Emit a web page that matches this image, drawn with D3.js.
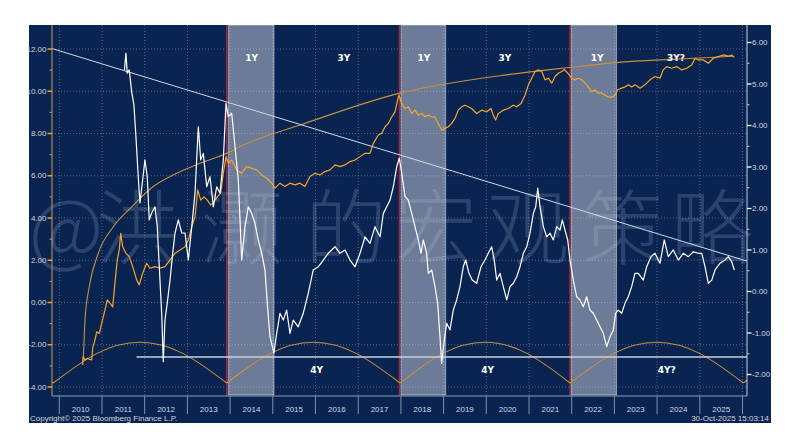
<!DOCTYPE html>
<html>
<head>
<meta charset="utf-8">
<script src="https://cdn.jsdelivr.net/npm/d3@7"></script>
<style>
  body { margin: 0; background: #fff; }
  svg text { font-family: "Liberation Sans Narrow", "Arial Narrow", "Liberation Sans", sans-serif; }
</style>
</head>
<body>
<svg id="chart" width="800" height="446"></svg>
<script>
// ---- data (decimal year, value) ----
// white series, left axis
var whiteSeries = [
  [2011.527,11.01],[2011.562,11.80],[2011.592,10.85],[2011.639,11.01],[2011.696,9.98],[2011.749,9.35],
  [2011.796,7.85],[2011.850,5.95],[2011.890,4.71],[2011.953,5.80],[2012.007,6.75],[2012.061,5.95],
  [2012.108,3.91],[2012.164,4.24],[2012.241,4.53],[2012.295,3.59],[2012.358,1.06],[2012.398,-0.50],
  [2012.436,-2.80],[2012.475,-0.83],[2012.529,-0.02],[2012.593,1.06],[2012.656,2.34],[2012.710,3.29],
  [2012.787,3.91],[2012.867,3.29],[2012.944,3.29],[2013.021,2.01],[2013.101,3.59],[2013.178,5.18],
  [2013.255,8.32],[2013.311,6.75],[2013.372,7.06],[2013.452,5.48],[2013.529,5.95],[2013.607,4.53],
  [2013.686,5.48],[2013.763,5.18],[2013.841,6.75],[2013.904,9.43],[2013.958,8.80],[2014.037,8.96],
  [2014.115,7.38],[2014.192,5.80],[2014.272,2.01],[2014.349,3.59],[2014.426,4.53],[2014.506,4.22],
  [2014.583,3.75],[2014.660,2.96],[2014.740,2.33],[2014.817,1.54],[2014.871,-0.04],[2014.934,-1.62],
  [2015.028,-2.40],[2015.091,-1.46],[2015.169,-0.51],[2015.246,-0.83],[2015.325,-0.36],[2015.403,-1.46],
  [2015.480,-0.83],[2015.597,-1.15],[2015.714,-0.51],[2015.831,0.43],[2015.948,1.54],[2016.066,1.69],
  [2016.183,2.01],[2016.300,2.33],[2016.457,2.64],[2016.574,2.33],[2016.691,2.49],[2016.808,2.01],
  [2016.925,1.69],[2017.042,2.33],[2017.159,3.11],[2017.276,2.80],[2017.393,3.59],[2017.511,3.11],
  [2017.588,4.22],[2017.667,4.53],[2017.745,4.85],[2017.822,5.48],[2017.902,6.43],[2017.963,6.84],
  [2018.019,6.12],[2018.096,5.01],[2018.173,4.85],[2018.253,4.22],[2018.330,3.59],[2018.407,2.96],
  [2018.471,2.33],[2018.525,2.96],[2018.604,2.33],[2018.642,1.38],[2018.721,1.54],[2018.799,0.75],
  [2018.862,-0.04],[2018.916,-1.62],[2018.955,-2.88],[2019.016,-1.78],[2019.073,-0.98],[2019.150,-1.30],
  [2019.227,-0.36],[2019.307,0.12],[2019.384,0.75],[2019.461,1.69],[2019.518,2.01],[2019.595,1.38],
  [2019.672,1.06],[2019.775,0.91],[2019.876,1.69],[2019.969,2.01],[2020.047,2.33],[2020.126,2.64],
  [2020.187,2.01],[2020.244,1.06],[2020.321,1.38],[2020.398,0.75],[2020.478,0.12],[2020.555,0.75],
  [2020.632,0.91],[2020.712,1.22],[2020.789,1.69],[2020.867,2.33],[2020.946,2.64],[2021.023,3.28],
  [2021.101,4.22],[2021.157,4.53],[2021.204,5.41],[2021.258,4.53],[2021.335,3.59],[2021.415,3.11],
  [2021.492,3.28],[2021.569,2.96],[2021.649,3.59],[2021.726,3.43],[2021.780,3.91],[2021.843,3.43],
  [2021.906,2.96],[2021.960,2.01],[2022.037,1.06],[2022.117,0.27],[2022.194,0.12],[2022.272,-0.20],
  [2022.351,0.27],[2022.429,-0.36],[2022.506,-0.51],[2022.585,-0.83],[2022.663,-1.15],[2022.740,-1.46],
  [2022.820,-2.09],[2022.897,-1.62],[2022.974,-1.30],[2023.030,-0.51],[2023.091,-0.36],[2023.171,-0.51],
  [2023.248,-0.04],[2023.325,0.27],[2023.405,0.75],[2023.482,1.38],[2023.560,1.38],[2023.677,1.06],
  [2023.756,1.69],[2023.857,2.17],[2023.951,2.33],[2024.068,1.86],[2024.169,2.96],[2024.262,2.17],
  [2024.379,2.49],[2024.496,2.01],[2024.614,2.33],[2024.731,2.17],[2024.848,2.40],[2024.965,2.33],
  [2025.044,2.33],[2025.122,1.69],[2025.199,0.91],[2025.279,1.06],[2025.356,1.54],[2025.473,1.86],
  [2025.590,2.01],[2025.667,2.17],[2025.747,1.93],[2025.808,1.54]
];

// orange series, right axis
var orangeSeries = [
  [2010.548,-1.77],[2010.562,-1.57],[2010.602,-1.65],[2010.656,-1.61],[2010.759,-1.65],[2010.782,-1.37],
  [2010.836,-1.17],[2010.876,-0.97],[2010.937,-1.01],[2010.993,-0.77],[2011.070,-0.45],[2011.124,-0.20],
  [2011.187,-0.28],[2011.251,-0.37],[2011.304,0.20],[2011.358,0.76],[2011.405,1.00],[2011.438,1.40],
  [2011.485,1.08],[2011.562,0.92],[2011.639,0.84],[2011.719,0.60],[2011.813,0.28],[2011.874,0.16],
  [2011.953,0.44],[2012.047,0.68],[2012.124,0.56],[2012.241,0.60],[2012.358,0.56],[2012.475,0.60],
  [2012.593,0.76],[2012.710,0.92],[2012.827,1.00],[2012.944,1.08],[2013.021,1.24],[2013.101,1.56],
  [2013.178,1.80],[2013.241,2.45],[2013.311,2.20],[2013.389,2.28],[2013.466,2.20],[2013.546,2.08],
  [2013.623,2.16],[2013.700,2.28],[2013.780,2.37],[2013.841,2.85],[2013.904,3.25],[2013.958,3.09],
  [2014.037,3.17],[2014.155,2.93],[2014.272,2.85],[2014.389,3.01],[2014.506,2.97],[2014.623,2.93],
  [2014.740,2.81],[2014.857,2.73],[2014.974,2.61],[2015.052,2.49],[2015.169,2.61],[2015.286,2.53],
  [2015.403,2.61],[2015.520,2.57],[2015.637,2.61],[2015.754,2.53],[2015.871,2.77],[2015.988,2.85],
  [2016.105,2.81],[2016.222,2.89],[2016.340,2.93],[2016.457,3.05],[2016.574,3.01],[2016.691,3.05],
  [2016.808,3.13],[2016.925,3.17],[2017.042,3.25],[2017.159,3.33],[2017.276,3.33],[2017.354,3.57],
  [2017.471,3.77],[2017.550,3.81],[2017.628,3.97],[2017.705,4.05],[2017.785,4.21],[2017.862,4.33],
  [2017.939,4.69],[2017.956,4.73],[2018.019,4.53],[2018.096,4.41],[2018.173,4.45],[2018.253,4.29],
  [2018.330,4.37],[2018.407,4.25],[2018.487,4.29],[2018.564,4.21],[2018.642,4.25],[2018.721,4.21],
  [2018.799,4.20],[2018.876,4.05],[2018.956,3.89],[2019.033,3.93],[2019.110,3.97],[2019.190,4.05],
  [2019.267,4.17],[2019.344,4.37],[2019.424,4.45],[2019.501,4.49],[2019.578,4.45],[2019.658,4.41],
  [2019.775,4.29],[2019.892,4.37],[2020.009,4.33],[2020.110,4.41],[2020.164,4.25],[2020.220,4.13],
  [2020.281,4.29],[2020.398,4.37],[2020.515,4.41],[2020.632,4.49],[2020.712,4.45],[2020.813,4.53],
  [2020.906,4.73],[2020.984,4.98],[2021.063,5.14],[2021.141,5.30],[2021.218,5.34],[2021.298,5.30],
  [2021.375,5.10],[2021.452,5.14],[2021.532,5.02],[2021.609,5.18],[2021.686,5.26],[2021.766,5.30],
  [2021.827,5.35],[2021.906,5.26],[2022.000,5.14],[2022.077,5.10],[2022.155,5.14],[2022.234,5.10],
  [2022.311,5.02],[2022.389,4.93],[2022.468,4.81],[2022.545,4.86],[2022.623,4.78],[2022.703,4.78],
  [2022.780,4.73],[2022.857,4.69],[2022.937,4.68],[2023.014,4.73],[2023.077,4.86],[2023.171,4.90],
  [2023.248,4.93],[2023.325,4.98],[2023.405,4.93],[2023.482,4.98],[2023.600,4.90],[2023.717,4.98],
  [2023.834,5.10],[2023.951,5.18],[2024.068,5.14],[2024.145,5.34],[2024.225,5.42],[2024.342,5.38],
  [2024.459,5.42],[2024.576,5.34],[2024.693,5.38],[2024.810,5.46],[2024.888,5.62],[2024.965,5.58],
  [2025.082,5.58],[2025.199,5.50],[2025.316,5.62],[2025.433,5.66],[2025.550,5.70],[2025.667,5.67],
  [2025.747,5.70],[2025.808,5.64]
];

// hand-drawn upper trend curve (right axis)
var trendCurve = [
  [2010.543,-1.70],[2010.562,-1.57],[2010.602,-0.69],[2010.703,0.12],[2010.913,0.92],[2011.265,1.56],
  [2011.696,2.04],[2012.201,2.53],[2012.749,2.85],[2013.295,3.09],[2013.920,3.33],[2014.309,3.53],
  [2015.637,4.01],[2017.979,4.78],[2020.321,5.20],[2021.883,5.39],[2023.326,5.54],[2024.459,5.60],
  [2025.778,5.67]
];

// descending resistance line and floor line (left axis)
var downLine = [[2009.829,12.02],[2026.105,1.96]];
var floorLine = [[2011.81,-2.58],[2026.105,-2.58]];

// 4-year cycle arcs (left axis)
var cycleDates = [2005.80, 2009.859, 2013.920, 2017.979, 2021.960, 2026.019, 2030.08];
var arcLevels = [-3.81, -2.42, -1.88]; // base, quarter, top

// 1Y shaded bands and peak markers
var redLines = [2013.920, 2017.967, 2021.960];
var bandStarts = [2013.958, 2018.002, 2021.991];
var bandEnds = [2015.028, 2019.049, 2023.049];

var topLabels = ["1Y", "3Y", "1Y", "3Y", "1Y", "3Y?"];
var topLabelDates = [2014.506, 2016.667, 2018.541, 2020.438, 2022.593, 2024.443];
var bottomLabels = ["4Y", "4Y", "4Y?"];
var bottomLabelDates = [2016.026, 2020.035, 2024.225];

var leftTicks = [-4, -2, 0, 2, 4, 6, 8, 10, 12];
var rightTicks = [-2, -1, 0, 1, 2, 3, 4, 5, 6];
var years = d3.range(2010, 2026);

var watermark = "@洪灏的宏观策略";

// ---- setup ----
var NAVY = "#0a2452";
var svg = d3.select("#chart");
var L = 52, R = 747, T = 25, B = 396;

function yd(y) {
  var yr = Math.floor(y);
  var s = new Date(yr, 0, 1), e = new Date(yr + 1, 0, 1);
  return new Date(+s + (y - yr) * (e - s));
}

var x = d3.scaleTime().domain([yd(2009.829), yd(2026.105)]).range([L, R]);
var yL = d3.scaleLinear().domain([-4, 12]).range([387, 49]);
var yR = d3.scaleLinear().domain([-2, 6]).range([374.5, 42.5]);

svg.append("rect").attr("x", 29).attr("y", 25).attr("width", 742).attr("height", 398).attr("fill", NAVY);

svg.append("clipPath").attr("id", "plotclip")
  .append("rect").attr("x", L).attr("y", T).attr("width", R - L).attr("height", B - T);

// grid
var grid = svg.append("g");
grid.selectAll("line.h").data(leftTicks).join("line")
  .attr("x1", L).attr("x2", R)
  .attr("y1", function(d){ return yL(d); }).attr("y2", function(d){ return yL(d); })
  .attr("stroke", "#6a80a2").attr("stroke-width", 0.7).attr("stroke-dasharray", "1,2");
var yearStarts = years.concat([2026]);
grid.selectAll("line.v").data(yearStarts).join("line")
  .attr("x1", function(d){ return x(yd(d)); }).attr("x2", function(d){ return x(yd(d)); })
  .attr("y1", T).attr("y2", B)
  .attr("stroke", "#6a80a2").attr("stroke-width", 0.7).attr("stroke-dasharray", "1,2");

// bands
var bands = svg.append("g");
bands.selectAll("rect").data(d3.range(bandStarts.length)).join("rect")
  .attr("x", function(i){ return x(yd(bandStarts[i])); })
  .attr("width", function(i){ return x(yd(bandEnds[i])) - x(yd(bandStarts[i])); })
  .attr("y", T).attr("height", B - T - 1)
  .attr("fill", "#ffffff").attr("fill-opacity", 0.4)
  .attr("stroke", "#ffffff").attr("stroke-opacity", 0.45).attr("stroke-width", 1);
bands.selectAll("line").data(redLines).join("line")
  .attr("x1", function(d){ return x(yd(d)); }).attr("x2", function(d){ return x(yd(d)); })
  .attr("y1", T).attr("y2", B)
  .attr("stroke", "#a3283c").attr("stroke-width", 1.5);

// watermark
var wmX = [66, 137, 242, 346, 436, 528, 623, 712];
svg.append("g").selectAll("text").data(watermark.split("")).join("text")
  .attr("x", function(d, i){ return wmX[i]; })
  .attr("y", 222)
  .attr("text-anchor", "middle").attr("dominant-baseline", "central")
  .style("font-family", '"Noto Sans CJK SC", sans-serif')
  .style("font-size", "82px").style("font-weight", "300")
  .attr("fill", "#c8d7eb").attr("fill-opacity", 0.18)
  .text(function(d){ return d; });

var plot = svg.append("g").attr("clip-path", "url(#plotclip)");

// arcs
var arcLine = d3.line().curve(d3.curveNatural)
  .x(function(d){ return x(yd(d[0])); }).y(function(d){ return yL(d[1]); });
for (var i = 0; i < cycleDates.length - 1; i++) {
  var a = cycleDates[i], b = cycleDates[i + 1], w = b - a;
  var pts = [[a, arcLevels[0]], [a + w / 4, arcLevels[1]], [a + w / 2, arcLevels[2]],
             [a + 3 * w / 4, arcLevels[1]], [b, arcLevels[0]]];
  plot.append("path").attr("d", arcLine(pts))
    .attr("fill", "none").attr("stroke", "#c8913c").attr("stroke-width", 1.1);
}

// trend curve on right axis
var lineR = d3.line().x(function(d){ return x(yd(d[0])); }).y(function(d){ return yR(d[1]); });
var lineLft = d3.line().x(function(d){ return x(yd(d[0])); }).y(function(d){ return yL(d[1]); });

plot.append("path").attr("d", lineR.curve(d3.curveMonotoneX)(trendCurve))
  .attr("fill", "none").attr("stroke", "#c8913c").attr("stroke-width", 1.1);
lineR.curve(d3.curveLinear);

plot.append("path").attr("d", lineLft(downLine))
  .attr("fill", "none").attr("stroke", "#d2d9e4").attr("stroke-width", 1);
plot.append("path").attr("d", lineLft(floorLine))
  .attr("fill", "none").attr("stroke", "#c9d1dd").attr("stroke-width", 1.3);

// series
plot.append("path").attr("d", lineR(orangeSeries))
  .attr("fill", "none").attr("stroke", "#f7a52c").attr("stroke-width", 1.2).attr("stroke-linejoin", "round");
plot.append("path").attr("d", lineLft(whiteSeries))
  .attr("fill", "none").attr("stroke", "#ffffff").attr("stroke-width", 1.2).attr("stroke-linejoin", "round");

// annotations
svg.append("g").selectAll("text").data(topLabels).join("text")
  .attr("x", function(d, i){ return x(yd(topLabelDates[i])); })
  .attr("y", 61).attr("text-anchor", "middle")
  .style("font-family", '"DejaVu Sans", Verdana, sans-serif')
  .style("font-size", "9px").style("font-weight", "bold")
  .attr("fill", "#ffffff").text(function(d){ return d; });
svg.append("g").selectAll("text").data(bottomLabels).join("text")
  .attr("x", function(d, i){ return x(yd(bottomLabelDates[i])); })
  .attr("y", 373).attr("text-anchor", "middle")
  .style("font-family", '"DejaVu Sans", Verdana, sans-serif')
  .style("font-size", "9px").style("font-weight", "bold")
  .attr("fill", "#ffffff").text(function(d){ return d; });

// x axis
var xa = svg.append("g");
xa.append("line").attr("x1", L).attr("x2", R).attr("y1", B).attr("y2", B)
  .attr("stroke", "#8d9bb2").attr("stroke-width", 1);
xa.selectAll("line.t").data(yearStarts).join("line")
  .attr("x1", function(d){ return x(yd(d)); }).attr("x2", function(d){ return x(yd(d)); })
  .attr("y1", B).attr("y2", 414)
  .attr("stroke", "#7f8ea8").attr("stroke-width", 1);
xa.selectAll("text").data(years).join("text")
  .attr("x", function(d){ return x(yd(d + 0.5)); })
  .attr("y", 409.5).attr("text-anchor", "middle").attr("dominant-baseline", "central")
  .style("font-size", "8px").attr("fill", "#d3d9e3")
  .text(function(d){ return d; });

// left axis
var la = svg.append("g");
la.append("line").attr("x1", L).attr("x2", L).attr("y1", T).attr("y2", B)
  .attr("stroke", "#c99a4e").attr("stroke-width", 1);
la.selectAll("line.mj").data(leftTicks).join("line")
  .attr("x1", 47.5).attr("x2", L)
  .attr("y1", function(d){ return yL(d); }).attr("y2", function(d){ return yL(d); })
  .attr("stroke", "#f39c1e").attr("stroke-width", 1.5);
la.selectAll("line.mn").data(d3.range(-3, 12, 2)).join("line")
  .attr("x1", 49.5).attr("x2", L)
  .attr("y1", function(d){ return yL(d); }).attr("y2", function(d){ return yL(d); })
  .attr("stroke", "#c99a4e").attr("stroke-width", 1);
la.selectAll("text").data(leftTicks).join("text")
  .attr("x", 46.5).attr("y", function(d){ return yL(d); })
  .attr("text-anchor", "end").attr("dominant-baseline", "central")
  .style("font-size", "8px").attr("fill", "#cfd5df")
  .text(function(d){ return d.toFixed(2); });

// right axis
var ra = svg.append("g");
ra.append("line").attr("x1", R).attr("x2", R).attr("y1", T).attr("y2", B)
  .attr("stroke", "#c5cdd9").attr("stroke-width", 1);
ra.selectAll("line.mj").data(rightTicks).join("line")
  .attr("x1", R).attr("x2", R + 4.5)
  .attr("y1", function(d){ return yR(d); }).attr("y2", function(d){ return yR(d); })
  .attr("stroke", "#ffffff").attr("stroke-width", 1.3);
ra.selectAll("line.mn").data(d3.range(-1.5, 6, 1)).join("line")
  .attr("x1", R).attr("x2", R + 2.5)
  .attr("y1", function(d){ return yR(d); }).attr("y2", function(d){ return yR(d); })
  .attr("stroke", "#c5cdd9").attr("stroke-width", 1);
ra.selectAll("text").data(rightTicks).join("text")
  .attr("x", R + 5).attr("y", function(d){ return yR(d); })
  .attr("dominant-baseline", "central")
  .style("font-size", "8px").attr("fill", "#cfd5df")
  .text(function(d){ return d.toFixed(2); });

// footer
svg.append("text").attr("x", 30).attr("y", 421)
  .style("font-size", "8px").attr("fill", "#cfd5df")
  .text("Copyright© 2025 Bloomberg Finance L.P.");
svg.append("text").attr("x", 769).attr("y", 421).attr("text-anchor", "end")
  .style("font-size", "8px").attr("fill", "#cfd5df")
  .text("30-Oct-2025 15:03:14");
</script>
</body>
</html>
